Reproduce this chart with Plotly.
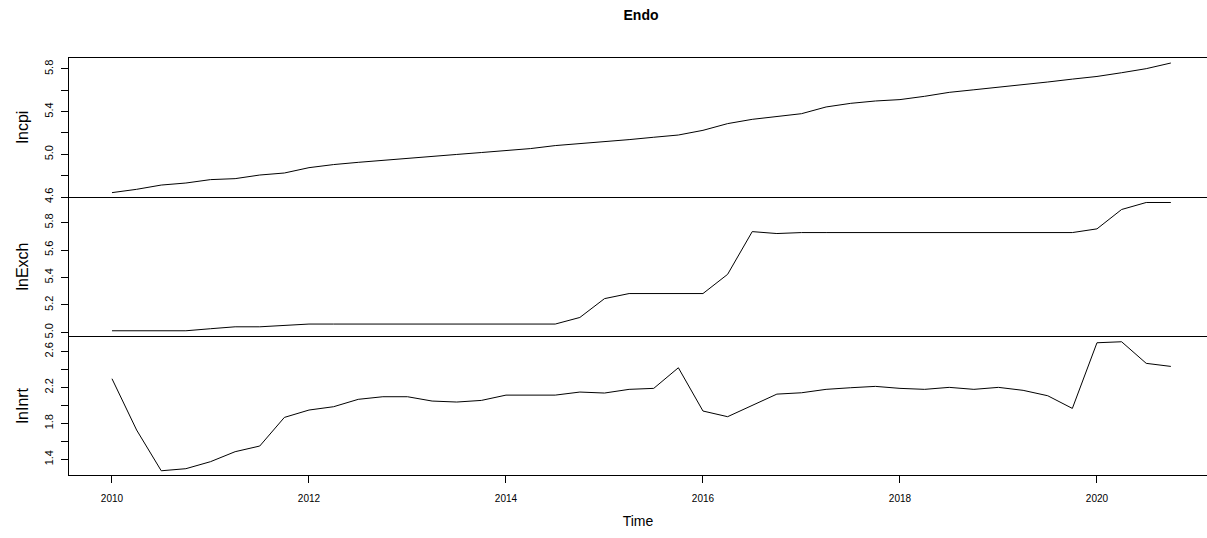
import numpy as np
import plotly.graph_objects as go
from plotly.subplots import make_subplots

# quarterly time index 2010 Q1 .. 2020 Q4
time = [2010 + q * 0.25 for q in range(44)]

lncpi = [4.641, 4.672, 4.712, 4.731,
         4.763, 4.772, 4.806, 4.825,
         4.875, 4.904, 4.925, 4.945,
         4.963, 4.981, 4.999, 5.017,
         5.036, 5.054, 5.082, 5.099,
         5.116, 5.138, 5.160, 5.181,
         5.225, 5.288, 5.328, 5.355,
         5.381, 5.444, 5.478, 5.500,
         5.513, 5.544, 5.581, 5.605,
         5.628, 5.652, 5.678, 5.705,
         5.730, 5.765, 5.803, 5.856]

lnExch = [5.012, 5.012, 5.012, 5.012,
          5.027, 5.041, 5.041, 5.053,
          5.061, 5.061, 5.061, 5.061,
          5.061, 5.061, 5.061, 5.061,
          5.061, 5.061, 5.061, 5.109,
          5.246, 5.283, 5.283, 5.283,
          5.283, 5.423, 5.734, 5.720,
          5.727, 5.727, 5.727, 5.727,
          5.727, 5.727, 5.727, 5.727,
          5.727, 5.727, 5.727, 5.727,
          5.754, 5.895, 5.946, 5.946]

lnInrt = [2.296, 1.726, 1.273, 1.296,
          1.374, 1.485, 1.548, 1.866,
          1.948, 1.985, 2.067, 2.096,
          2.096, 2.048, 2.037, 2.055,
          2.114, 2.114, 2.114, 2.148,
          2.137, 2.178, 2.189, 2.418,
          1.937, 1.874, 2.003, 2.125,
          2.140, 2.178, 2.196, 2.211,
          2.189, 2.178, 2.200, 2.178,
          2.200, 2.167, 2.107, 1.966,
          2.696, 2.707, 2.467, 2.433]

series_names = ["lncpi", "lnExch", "lnInrt"]
series = [lncpi, lnExch, lnInrt]

y_ranges = [[4.60, 5.903], [4.974, 5.986], [1.226, 2.771]]
y_tickvals = [[4.6, 4.8, 5.0, 5.2, 5.4, 5.6, 5.8],
              [5.0, 5.2, 5.4, 5.6, 5.8],
              [1.4, 1.6, 1.8, 2.0, 2.2, 2.4, 2.6]]
y_ticktext = [["4.6", "", "5.0", "", "5.4", "", "5.8"],
              ["5.0", "5.2", "5.4", "5.6", "5.8"],
              ["1.4", "", "1.8", "", "2.2", "", "2.6"]]

x_tickvals = [2010, 2012, 2014, 2016, 2018, 2020]
x_ticktext = ["2010", "2012", "2014", "2016", "2018", "2020"]

FONT = "Liberation Sans, Arial, Helvetica, sans-serif"

fig = make_subplots(rows=3, cols=1, shared_xaxes=True, vertical_spacing=0)

for i, (name, vals) in enumerate(zip(series_names, series)):
    fig.add_trace(go.Scatter(x=time, y=vals, mode="lines",
                             line=dict(color="black", width=1),
                             name=name, showlegend=False), row=i + 1, col=1)

xrange = [2009.5635, 2021.117]
for i in range(3):
    r = i + 1
    is_bottom = (r == 3)
    fig.update_xaxes(row=r, col=1, range=xrange, showgrid=False, zeroline=False,
                     showline=True, linecolor="black", linewidth=1,
                     mirror=(r == 1),
                     ticks="outside" if is_bottom else "",
                     ticklen=7, tickcolor="black", tickwidth=1,
                     tickvals=x_tickvals, ticktext=x_ticktext,
                     showticklabels=is_bottom,
                     ticklabelstandoff=7,
                     tickfont=dict(family=FONT, size=10, color="black"))
    fig.update_yaxes(row=r, col=1, range=y_ranges[i], showgrid=False, zeroline=False,
                     showline=True, linecolor="black", linewidth=1,
                     ticks="outside", ticklen=7, tickcolor="black", tickwidth=1,
                     tickvals=y_tickvals[i], ticktext=y_ticktext[i],
                     tickangle=-90, ticklabelstandoff=4,
                     tickfont=dict(family=FONT, size=11, color="black"))

fig.update_xaxes(row=3, col=1, title=dict(text="Time", font=dict(family=FONT, size=14, color="black"),
                                          standoff=13))

# y-axis titles placed like R's outer labels
for i, name in enumerate(series_names):
    dom = [(2 / 3, 1), (1 / 3, 2 / 3), (0, 1 / 3)][i]
    fig.add_annotation(text=name, xref="paper", yref="paper",
                       x=(22 - 69) / 1138, y=(dom[0] + dom[1]) / 2,
                       xanchor="center", yanchor="middle", textangle=-90,
                       showarrow=False,
                       font=dict(family=FONT, size=16, color="black"))

fig.update_layout(
    width=1207, height=538,
    margin=dict(l=69, r=0, t=58, b=63),
    paper_bgcolor="white", plot_bgcolor="white",
    title=dict(text="<b>Endo</b>", x=(641) / 1207, xanchor="center",
               y=1 - 15 / 538, yanchor="middle",
               font=dict(family=FONT, size=14, color="black")),
)

fig.write_html("out.html", config={"displayModeBar": False},
               post_script="document.body.style.margin='0';document.body.style.overflow='hidden';")
